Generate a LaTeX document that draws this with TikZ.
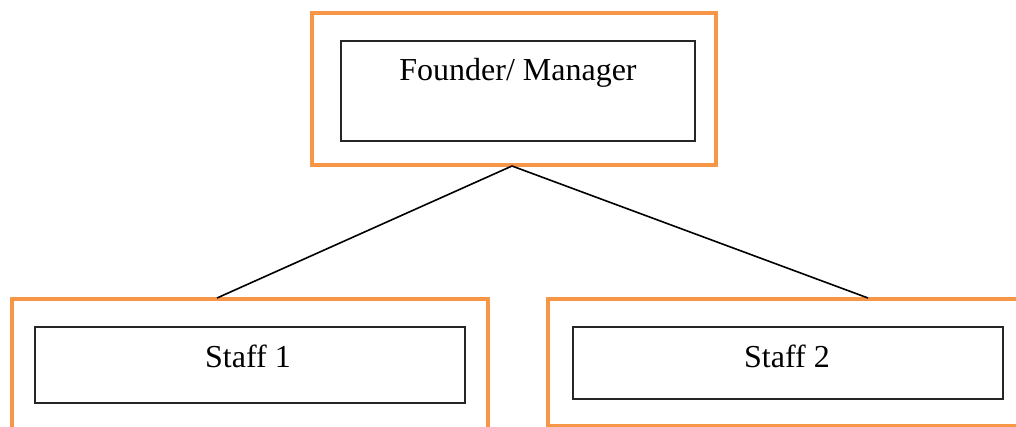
\documentclass[tikz,border=0pt]{standalone}
\usepackage{fontspec}
\setmainfont{Liberation Serif}
\definecolor{frameorange}{HTML}{F79646}
\begin{document}
\begin{tikzpicture}[x=1pt,y=-1pt,
  outerframe/.style={draw=frameorange, line width=4pt, rectangle, inner sep=0pt},
  innerbox/.style={draw=black!85, line width=1.2pt, rectangle, inner sep=0pt},
  label/.style={font=\fontsize{32}{38}\selectfont, anchor=base, inner sep=0pt},
  link/.style={draw=black, line width=1.6pt}]
\useasboundingbox (0,0) rectangle (1016,427);
\clip (0,0) rectangle (1016,427);

% founder / manager
\node[outerframe, minimum width=404pt, minimum height=152pt] (top) at (514,89) {};
\node[innerbox, minimum width=354pt, minimum height=100pt] (topin) at (518,91) {};
\node[label] (toptxt) at (518,81) {Founder/ Manager};

% staff 1
\node[outerframe, minimum width=476pt, minimum height=150pt] (left) at (250,374) {};
\node[innerbox, minimum width=430pt, minimum height=76pt] (leftin) at (250,365) {};
\node[label] (lefttxt) at (248,367) {Staff 1};

% staff 2
\node[outerframe, minimum width=480pt, minimum height=127pt] (right) at (788,362.5) {};
\node[innerbox, minimum width=430pt, minimum height=72pt] (rightin) at (788,363) {};
\node[label] (righttxt) at (787,367) {Staff 2};

% reporting lines
\coordinate (apex) at (512,166);
\coordinate (ja) at (217,298);
\coordinate (jb) at (868,298);
\draw[link] (apex) -- (ja);
\draw[link] (apex) -- (jb);
\end{tikzpicture}
\end{document}
